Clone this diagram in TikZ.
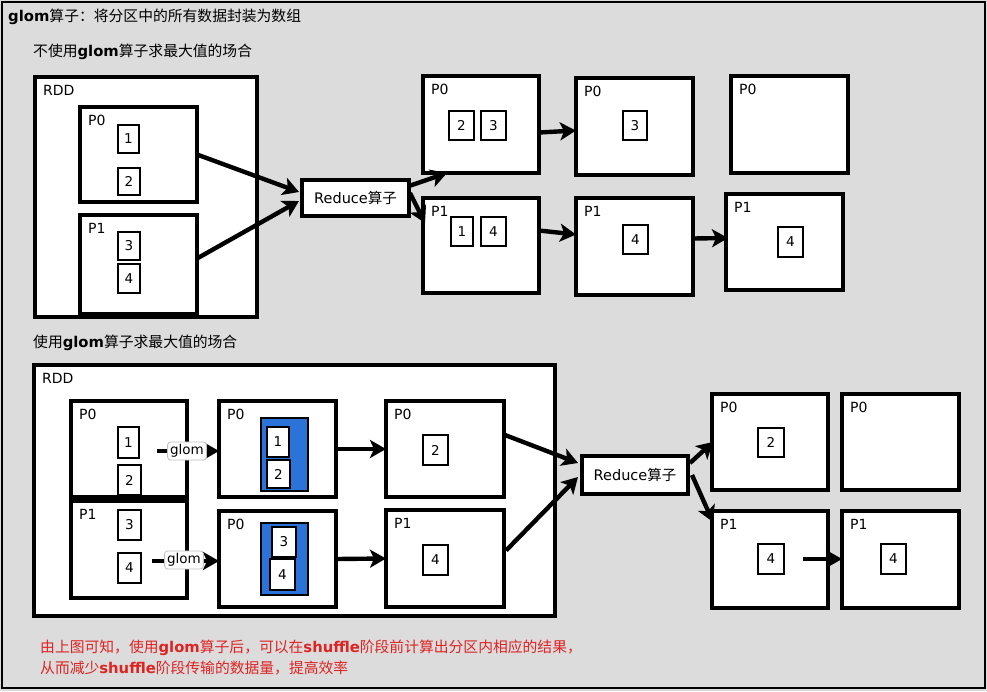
\documentclass[tikz,border=0pt]{standalone}
\usepackage{fontspec}
\setmainfont{DejaVu Sans}
\newfontfamily\cjk{Noto Sans CJK SC}
\usetikzlibrary{arrows.meta,calc}
\definecolor{bgc}{RGB}{220,220,220}
\definecolor{blu}{RGB}{43,115,217}
\definecolor{redt}{RGB}{222,35,35}
\tikzset{
  boxst/.style={draw=black, line width=3.2pt, fill=white, inner sep=0pt, outer sep=0pt},
  itemst/.style={draw=black, line width=2.8pt, fill=white, inner sep=0pt, outer sep=0pt, font=\fontsize{13.5}{13.5}\selectfont},
  bluest/.style={draw=black, line width=1.5pt, fill=blu, inner sep=0pt, outer sep=0pt},
  lbl/.style={anchor=north west, inner sep=0pt, font=\fontsize{14}{14}\selectfont},
  head/.style={anchor=west, inner sep=0pt, font=\fontsize{14.8}{16}\selectfont},
  note/.style={anchor=west, inner sep=0pt, text=redt, font=\fontsize{14.8}{16}\selectfont},
  redst/.style={draw=black, line width=3.2pt, fill=white, inner sep=0pt, outer sep=0pt, font=\fontsize{14.5}{15}\selectfont},
  glomst/.style={draw=black!25, line width=0.8pt, fill=white, rounded corners=3pt, inner sep=2.5pt, font=\fontsize{13.5}{14}\selectfont},
  arr/.style={line width=4.4pt, -{Stealth[length=16pt,width=18pt,inset=4pt]}},
}
\newcommand\bx[6]{\node[boxst, minimum width={#4-#2}, minimum height={#5-#3}] (#1) at ({(#2+#4)/2},{(#3+#5)/2}) {};
  \node[lbl] (#1l) at ($(#1.north west)+(8,8)$) {#6};}
\newcommand\itm[6]{\node[itemst, minimum width={#4-#2}, minimum height={#5-#3}] (#1) at ({(#2+#4)/2},{(#3+#5)/2}) {#6};}
\newcommand\blu[5]{\node[bluest, minimum width={#4-#2}, minimum height={#5-#3}] (#1) at ({(#2+#4)/2},{(#3+#5)/2}) {};}
\begin{document}
\begin{tikzpicture}[x=1pt,y=-1pt]
\useasboundingbox (0,0) rectangle (987,691);
\fill[bgc] (0,0) rectangle (987,691);
\draw[line width=2pt] (2,2) rectangle (985,688);

\node[head] (title) at (8,17) {\textbf{glom}{\cjk 算子：将分区中的所有数据封装为数组}};
\node[head] (sub1) at (33,52) {{\cjk 不使用}\textbf{glom}{\cjk 算子求最大值的场合}};
\node[head] (sub2) at (33,343) {{\cjk 使用}\textbf{glom}{\cjk 算子求最大值的场合}};

% ---------- top section ----------
\bx{rddA}{35}{77}{257}{317}{RDD}
\bx{pa0}{80}{107}{197}{202}{P0}
\bx{pa1}{80}{215}{197}{314}{P1}
\itm{ia1}{118}{125}{139}{153}{1}
\itm{ia2}{118}{168}{140}{195}{2}
\itm{ia3}{118}{232}{140}{260}{3}
\itm{ia4}{118}{264}{140}{293}{4}

\node[redst, minimum width=107, minimum height=36] (redA) at (355.5,198) {Reduce{\cjk 算子}};

\bx{ap0}{423}{76}{539}{173}{P0}
\itm{ja2}{449}{111}{474}{140}{2}
\itm{ja3}{481}{111}{506}{140}{3}
\bx{ap1}{423}{198}{539}{293}{P1}
\itm{ja1}{451}{217}{473}{246}{1}
\itm{ja4}{481}{217}{506}{246}{4}
\bx{bp0}{576}{78}{693}{175}{P0}
\itm{ka3}{623}{111}{647}{140}{3}
\bx{bp1}{576}{198}{693}{295}{P1}
\itm{ka4}{623}{225}{648}{254}{4}
\bx{cp0}{731}{76}{848}{173}{P0}
\bx{cp1}{726}{194}{843}{290}{P1}
\itm{la4}{778}{227}{803}{257}{4}

\draw[arr] (pa0.east) -- ($(redA.west)+(-3,-6)$);
\draw[arr] ($(pa1.east)+(0,-6)$) -- ($(redA.west)+(-3,3)$);
\draw[arr] ($(redA.north east)+(0,6)$) -- ($(ap0.south west)+(24,0)$);
\draw[arr] ($(redA.east)+(1,-5)$) -- ($(ap1.north west)+(2,25)$);
\draw[arr] ($(ap0.east)+(0,8)$) -- ($(bp0.west)+(0,4)$);
\draw[arr] ($(ap1.east)+(0,-15)$) -- ($(bp1.west)+(0,-12)$);
\draw[arr] ($(bp1.east)+(0,-8)$) -- ($(cp1.west)+(2,-4)$);

% ---------- bottom section ----------
\bx{rddB}{34}{365}{555}{616}{RDD}
\bx{q0}{71}{401}{187}{497}{P0}
\itm{ib1}{118}{427}{139}{458}{1}
\itm{ib2}{118}{465}{141}{495}{2}
\bx{q1}{71}{501}{187}{598}{P1}
\itm{ib3}{118}{510}{141}{540}{3}
\itm{ib4}{118}{553}{141}{583}{4}

\bx{m0}{219}{401}{336}{497}{P0}
\blu{bl0}{261}{418}{308}{491}
\itm{jb1}{267}{427}{289}{457}{1}
\itm{jb2}{267}{460}{290}{488}{2}
\bx{m1}{219}{511}{336}{607}{P0}
\blu{bl1}{261}{523}{308}{595}
\itm{jb3}{272}{527}{296}{557}{3}
\itm{jb4}{270}{559}{295}{590}{4}

\bx{r0}{386}{401}{504}{497}{P0}
\itm{kb2}{423}{435}{448}{465}{2}
\bx{r1}{386}{510}{504}{607}{P1}
\itm{kb4}{423}{545}{448}{575}{4}

\coordinate (g0s) at (157,451);
\coordinate (g1s) at (152,561);
\draw[arr] (g0s) -- (m0.west |- g0s);
\draw[arr] (g1s) -- (m1.west |- g1s);
\node[glomst] (glom0) at (187,451) {glom};
\node[glomst] (glom1) at (184,560) {glom};

\draw[arr] (m0.east) -- (r0.west);
\draw[arr] (m1.east) -- (r1.west);

\node[redst, minimum width=106, minimum height=38] (redB) at (635,475) {Reduce{\cjk 算子}};

\bx{d0}{712}{394}{828}{490}{P0}
\itm{lb2}{758}{428}{784}{457}{2}
\bx{e0}{842}{394}{959}{490}{P0}
\bx{d1}{712}{511}{828}{608}{P1}
\itm{lb4}{758}{544}{784}{574}{4}
\bx{e1}{842}{511}{959}{608}{P1}
\itm{mb4}{881}{544}{906}{574}{4}

\draw[arr] ($(r0.east)+(1,-14)$) -- ($(redB.west)+(-4,-12)$);
\draw[arr] ($(r1.east)+(2,-8)$) -- ($(redB.west)+(-4,2)$);
\draw[arr] ($(redB.north east)+(2,7)$) -- ($(d0.west)+(1,0)$);
\draw[arr] ($(redB.east)+(4,0)$) -- ($(d1.north west)+(1,11)$);
\coordinate (ds) at (803,559);
\draw[arr] (ds) -- (e1.west |- ds);

\node[note] (n1) at (40,648) {{\cjk 由上图可知，使用}\textbf{glom}{\cjk 算子后，可以在}\textbf{shuffle}{\cjk 阶段前计算出分区内相应的结果，}};
\node[note] (n2) at (40,668) {{\cjk 从而减少}\textbf{shuffle}{\cjk 阶段传输的数据量，提高效率}};
\end{tikzpicture}
\end{document}
